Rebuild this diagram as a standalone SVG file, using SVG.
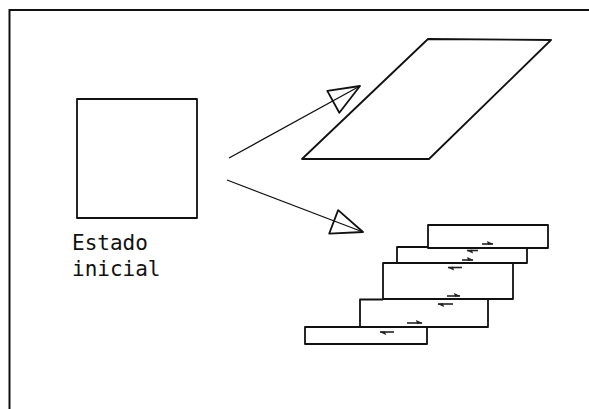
<svg xmlns="http://www.w3.org/2000/svg" width="589" height="409" viewBox="0 0 589 409">
  <style>
    .shape { fill: none; stroke: #111; stroke-width: 1.8; stroke-linejoin: round; }
    .frame { fill: none; stroke: #111; stroke-width: 2; }
    .conn { fill: none; stroke: #111; stroke-width: 1.3; }
    .harp { fill: none; stroke: #222; stroke-width: 1.6; }
    .label { font-family: "DejaVu Sans Mono", "Liberation Mono", monospace; font-size: 21px; fill: #111; }
  </style>
  <defs>
    <marker id="openTri" markerUnits="userSpaceOnUse" viewBox="-34 -16 36 32" markerWidth="36" markerHeight="32" refX="0" refY="0" orient="auto" overflow="visible">
      <path d="M0,0 L-31,-11.5 L-31,13.5 Z" fill="none" stroke="#111" stroke-width="1.8" stroke-linejoin="round"/>
    </marker>
    <marker id="half" markerUnits="userSpaceOnUse" viewBox="-7 -4 8 5" markerWidth="8" markerHeight="5" refX="0" refY="0" orient="auto" overflow="visible">
      <path d="M0.5,0 L-6,-3 L-5,0.8 Z" fill="#222"/>
    </marker>
  </defs>

  <g id="frame">
    <path class="frame" d="M9.5,409 L9.5,10 L589,10"/>
  </g>

  <g id="initial-state">
    <rect class="shape" x="77" y="99" width="120" height="119"/>
    <text class="label" x="72" y="250">Estado</text>
    <text class="label" x="72" y="276">inicial</text>
  </g>

  <g id="sheared-state">
    <polygon class="shape" points="302,159 429,159 551,40 428,39"/>
  </g>

  <g id="slipped-state">
    <rect class="shape" x="428" y="225" width="120" height="23"/>
    <path class="shape" d="M428,247 L397,247 L397,263 L527,263 L527,248"/>
    <path class="shape" d="M397,263 L383,263 L383,299 L513,299 L513,263"/>
    <path class="shape" d="M383,299.5 L360,299.5 L360,327 L488,327 L488,299.5"/>
    <path class="shape" d="M360,327 L305,327 L305,344 L427,344 L427,327"/>
    <g id="slip-arrows">
      <path class="harp" d="M482,244 L493,244" marker-end="url(#half)"/>
      <path class="harp" d="M478,250.5 L467,250.5" marker-end="url(#half)"/>
      <path class="harp" d="M462,260 L473,260" marker-end="url(#half)"/>
      <path class="harp" d="M462,267.5 L448,267.5" marker-end="url(#half)"/>
      <path class="harp" d="M447,296 L460,296" marker-end="url(#half)"/>
      <path class="harp" d="M453,304 L438,304" marker-end="url(#half)"/>
      <path class="harp" d="M407,323 L422,323" marker-end="url(#half)"/>
      <path class="harp" d="M394,332 L380,332" marker-end="url(#half)"/>
    </g>
  </g>

  <g id="connectors">
    <path class="conn" d="M229,158 L360,86" marker-end="url(#openTri)"/>
    <path class="conn" d="M227,180 L363,232" marker-end="url(#openTri)"/>
  </g>
</svg>
